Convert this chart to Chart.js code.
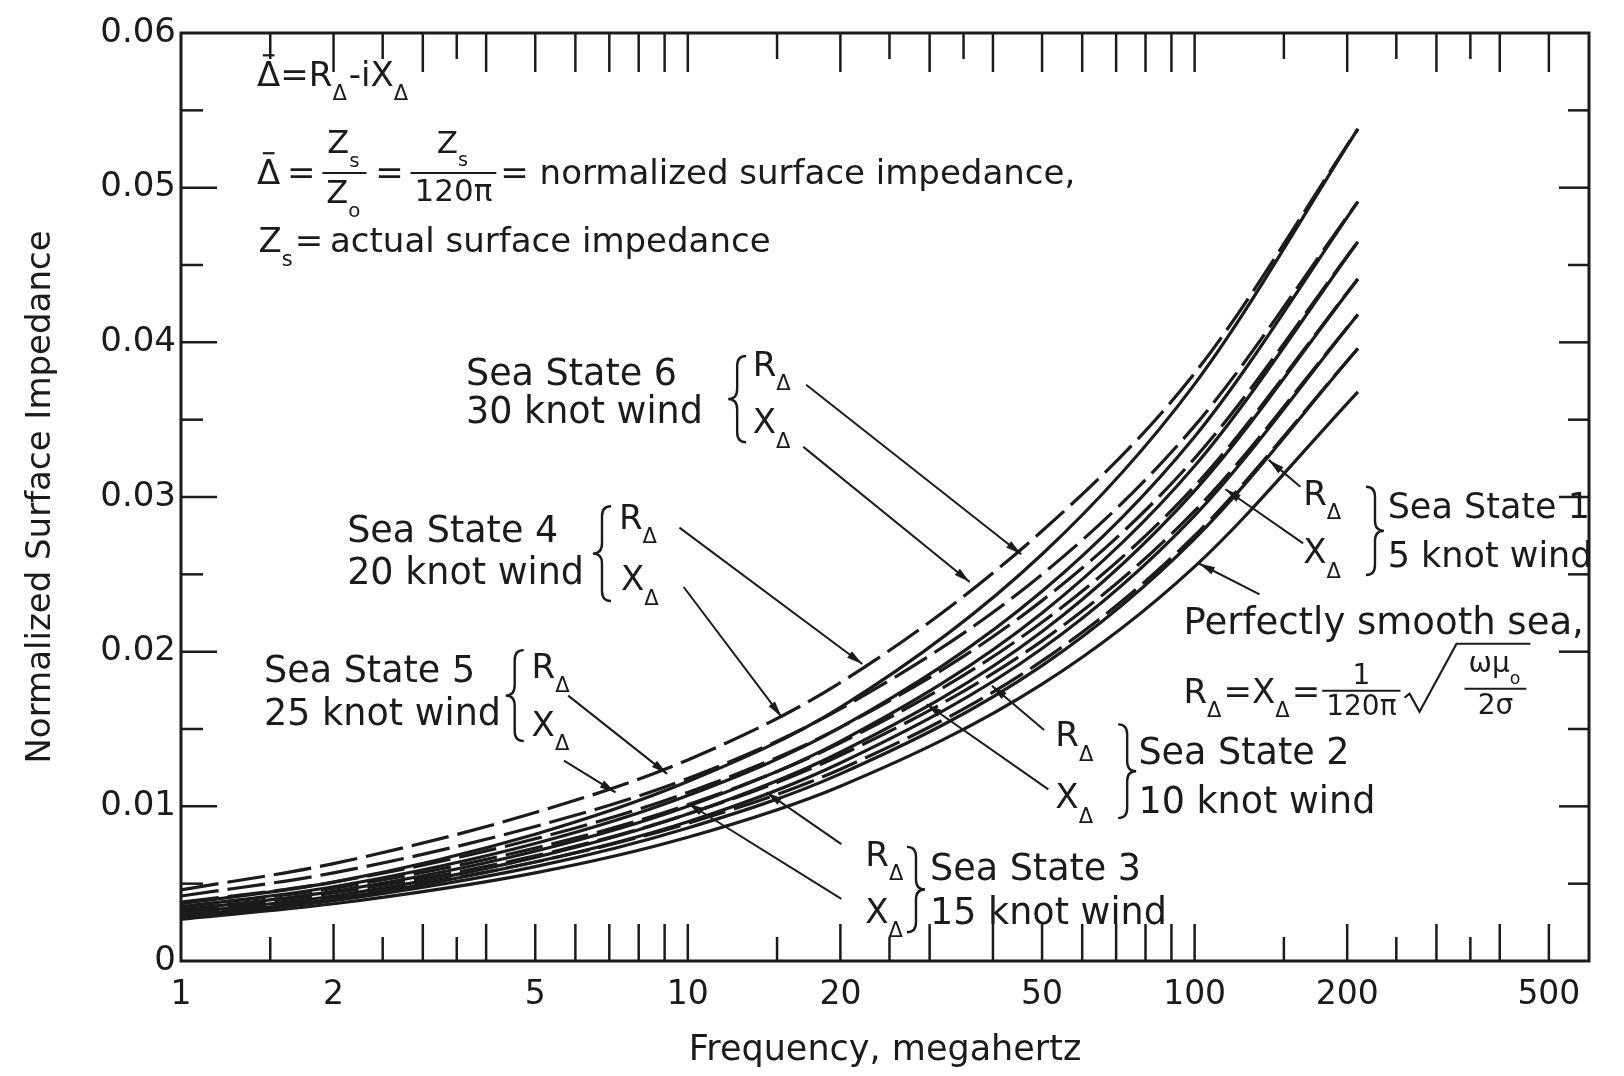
<!DOCTYPE html>
<html>
<head>
<meta charset="utf-8">
<script src="https://cdn.jsdelivr.net/npm/chart.js@4.4.1/dist/chart.umd.min.js"></script>
<style>
  html, body { margin: 0; padding: 0; background: #fff; }
  #wrap { width: 1624px; height: 1076px; }
</style>
</head>
<body>
<div id="wrap"><canvas id="chart" width="1624" height="1076"></canvas></div>
<script>
// 1. DATOS
const freqs = [1, 2, 5, 10, 20, 50, 100, 210];

const smoothSea = [0.0027, 0.0037, 0.0057, 0.0080, 0.0113, 0.0179, 0.0255, 0.0368];
const ss1R = [0.0028, 0.0039, 0.0061, 0.0086, 0.0121, 0.0191, 0.0273, 0.0396];
const ss1X = [0.0030, 0.0041, 0.0064, 0.0089, 0.0124, 0.0194, 0.0275, 0.0396];
const ss2R = [0.0029, 0.0040, 0.0064, 0.0090, 0.0128, 0.0202, 0.0288, 0.0418];
const ss2X = [0.0032, 0.0044, 0.0068, 0.0095, 0.0133, 0.0207, 0.0291, 0.0418];
const ss3R = [0.0031, 0.0042, 0.0067, 0.0095, 0.0135, 0.0213, 0.0304, 0.0441];
const ss3X = [0.0035, 0.0047, 0.0073, 0.0101, 0.0141, 0.0219, 0.0307, 0.0441];
const ss4R = [0.0033, 0.0045, 0.0071, 0.0100, 0.0142, 0.0225, 0.0320, 0.0465];
const ss4X = [0.0038, 0.0051, 0.0079, 0.0109, 0.0151, 0.0233, 0.0325, 0.0465];
const ss5R = [0.0035, 0.0048, 0.0076, 0.0107, 0.0151, 0.0239, 0.0339, 0.0491];
const ss5X = [0.0042, 0.0057, 0.0087, 0.0118, 0.0163, 0.0250, 0.0346, 0.0491];
const ss6R = [0.0037, 0.0051, 0.0082, 0.0116, 0.0164, 0.0263, 0.0373, 0.0538];
const ss6X = [0.0046, 0.0063, 0.0096, 0.0130, 0.0180, 0.0278, 0.0380, 0.0538];

const xTickLabels = [1, 2, 5, 10, 20, 50, 100, 200, 500];
const xTicksLong = [2, 3, 4, 5, 6, 7, 8, 9, 10, 20, 30, 40, 50, 60, 70, 80, 90, 100, 200, 300, 400, 500];
const xTicksShortBottom = [1.5, 2.5, 3.5, 15, 25, 150, 250, 350];
const xTicksShortTop = [1.5, 2.5, 3.5, 15, 25, 35, 150, 250, 350];
const yTickLabels = [0, 0.01, 0.02, 0.03, 0.04, 0.05, 0.06];
const yTicksMinor = [0.005, 0.015, 0.025, 0.035, 0.045, 0.055];

// puntas de flechas [frecuencia MHz, valor]
const tipSS6 = [[45.5, 0.0263], [36, 0.0245]];
const tipSS4 = [[22.1, 0.0192], [15.3, 0.0158]];
const tipSS5 = [[9.1, 0.0121], [7.2, 0.0109]];
const tipSS1 = [[140, 0.0324], [115, 0.0305]];
const tipSS2 = [[39.8, 0.0178], [29.6, 0.0166]];
const tipSS3 = [[14.3, 0.0109], [10.0, 0.0102]];
const tipSmooth = [102, 0.0257];

const seriesList = [
  { name: "Perfectly smooth sea", values: smoothSea, dashed: false },
  { name: "SS1 R", values: ss1R, dashed: false },
  { name: "SS1 X", values: ss1X, dashed: true },
  { name: "SS2 R", values: ss2R, dashed: false },
  { name: "SS2 X", values: ss2X, dashed: true },
  { name: "SS3 R", values: ss3R, dashed: false },
  { name: "SS3 X", values: ss3X, dashed: true },
  { name: "SS4 R", values: ss4R, dashed: false },
  { name: "SS4 X", values: ss4X, dashed: true },
  { name: "SS5 R", values: ss5R, dashed: false },
  { name: "SS5 X", values: ss5X, dashed: true },
  { name: "SS6 R", values: ss6R, dashed: false },
  { name: "SS6 X", values: ss6X, dashed: true },
];

// 2. AUXILIARES DE DIBUJO
const INK = "#1b1b1b";
const FONT = '"DejaVu Sans", sans-serif';

function setFont(ctx, size) { ctx.font = size + "px " + FONT; }

// piezas: [texto, tipo]  tipo: 'n' normal, 's' subíndice, 'b' con barra encima
function rich(ctx, x, y, pieces, size, draw = true) {
  let cx = x;
  for (const [txt, kind] of pieces) {
    const sz = kind === "s" ? size * 0.62 : size;
    setFont(ctx, sz);
    const w = ctx.measureText(txt).width;
    if (draw) {
      ctx.fillText(txt, cx, kind === "s" ? y + size * 0.52 : y);
      if (kind === "b") {
        ctx.lineWidth = 2.2;
        ctx.beginPath();
        ctx.moveTo(cx + w * 0.25, y - size * 0.64);
        ctx.lineTo(cx + w * 0.75, y - size * 0.64);
        ctx.stroke();
      }
    }
    cx += w + (kind === "s" ? 2 : 0);
  }
  return cx;
}

function frac(ctx, x, y, num, den, size, up, down) {
  const wn = rich(ctx, 0, 0, num, size, false);
  const wd = rich(ctx, 0, 0, den, size, false);
  const w = Math.max(wn, wd) + 8;
  rich(ctx, x + (w - wn) / 2, y - up, num, size);
  rich(ctx, x + (w - wd) / 2, y + down, den, size);
  ctx.lineWidth = 2.2;
  ctx.beginPath(); ctx.moveTo(x, y); ctx.lineTo(x + w, y); ctx.stroke();
  return x + w;
}

function brace(ctx, x, y1, y2, dir) {
  const m = (y1 + y2) / 2, w = 9 * dir;
  ctx.lineWidth = 2.4;
  ctx.beginPath();
  ctx.moveTo(x + w, y1);
  ctx.quadraticCurveTo(x, y1, x, y1 + 10);
  ctx.lineTo(x, m - 10);
  ctx.quadraticCurveTo(x, m, x - w, m);
  ctx.quadraticCurveTo(x, m, x, m + 10);
  ctx.lineTo(x, y2 - 10);
  ctx.quadraticCurveTo(x, y2, x + w, y2);
  ctx.stroke();
}

function arrow(ctx, x1, y1, x2, y2) {
  ctx.lineWidth = 2;
  ctx.beginPath(); ctx.moveTo(x1, y1); ctx.lineTo(x2, y2); ctx.stroke();
  const a = Math.atan2(y2 - y1, x2 - x1), L = 16, W = 4;
  const bx = x2 - L * Math.cos(a), by = y2 - L * Math.sin(a);
  ctx.beginPath();
  ctx.moveTo(x2, y2);
  ctx.lineTo(bx + W * Math.sin(a), by - W * Math.cos(a));
  ctx.lineTo(bx - W * Math.sin(a), by + W * Math.cos(a));
  ctx.closePath();
  ctx.fill();
}

const RD = [["R", "n"], ["Δ", "s"]];
const XD = [["X", "n"], ["Δ", "s"]];

// 3. PLUGIN: marco, marcas de ejes y anotaciones
const decorPlugin = {
  id: "decor",
  afterDraw(chart) {
    const { ctx, chartArea: a, scales: { x, y } } = chart;
    const P = (fx, fy) => [a.left + fx * (a.right - a.left), a.top + fy * (a.bottom - a.top)];
    const D = (f, v) => [x.getPixelForValue(f), y.getPixelForValue(v)];

    ctx.save();
    ctx.strokeStyle = INK;
    ctx.fillStyle = INK;
    ctx.lineCap = "butt";

    // marco
    ctx.lineWidth = 3;
    ctx.strokeRect(a.left, a.top, a.right - a.left, a.bottom - a.top);

    // marcas eje x
    ctx.lineWidth = 2.5;
    const vTick = (v, len, top) => {
      const px = x.getPixelForValue(v);
      ctx.beginPath();
      if (top) { ctx.moveTo(px, a.top); ctx.lineTo(px, a.top + len); }
      else { ctx.moveTo(px, a.bottom); ctx.lineTo(px, a.bottom - len); }
      ctx.stroke();
    };
    xTicksLong.forEach(v => { vTick(v, 37, false); vTick(v, 39, true); });
    xTicksShortBottom.forEach(v => vTick(v, 24, false));
    xTicksShortTop.forEach(v => vTick(v, 26, true));

    // marcas eje y
    const hTick = (v, len, right) => {
      const py = y.getPixelForValue(v);
      ctx.beginPath();
      if (right) { ctx.moveTo(a.right, py); ctx.lineTo(a.right - len, py); }
      else { ctx.moveTo(a.left, py); ctx.lineTo(a.left + len, py); }
      ctx.stroke();
    };
    yTickLabels.slice(1, -1).forEach(v => { hTick(v, 36, false); hTick(v, 30, true); });
    yTicksMinor.forEach(v => { hTick(v, 22, false); hTick(v, 21, true); });

    // textos
    ctx.textAlign = "left";
    ctx.textBaseline = "middle";
    const S = 34;

    // bloque de fórmulas arriba a la izquierda
    let [tx, ty] = P(0.054, 0.0475);
    rich(ctx, tx, ty, [["Δ", "b"], ["=", "n"], ...RD, ["-", "n"], ["i", "n"], ...XD], S);

    [tx, ty] = P(0.054, 0.153);
    let cx = rich(ctx, tx, ty, [["Δ", "b"], ["\u2009=\u2009", "n"]], S);
    cx = frac(ctx, cx, ty - 2, [["Z", "n"], ["s", "s"]], [["Z", "n"], ["o", "s"]], 32, 28, 22);
    cx = rich(ctx, cx + 2, ty, [["\u2009=\u2009", "n"]], S);
    cx = frac(ctx, cx, ty - 2, [["Z", "n"], ["s", "s"]], [["120π", "n"]], 31, 28, 20);
    rich(ctx, cx + 4, ty, [["= normalized surface impedance,", "n"]], S);

    [tx, ty] = P(0.055, 0.226);
    rich(ctx, tx, ty, [["Z", "n"], ["s", "s"], ["=\u2009actual surface impedance", "n"]], S);

    const block = (txt1, txt2, tPos, bPos, bDir, rPos, xPos, tails, tips, size) => {
      let [px, py] = P(tPos[0], tPos[1]);
      rich(ctx, px, py, [[txt1, "n"]], size);
      [px, py] = P(tPos[0], tPos[2]);
      rich(ctx, px, py, [[txt2, "n"]], size);
      const [bx, by1] = P(bPos[0], bPos[1]);
      const [, by2] = P(bPos[0], bPos[2]);
      brace(ctx, bx, by1, by2, bDir);
      [px, py] = P(rPos[0], rPos[1]);
      rich(ctx, px, py, RD, S);
      [px, py] = P(xPos[0], xPos[1]);
      rich(ctx, px, py, XD, S);
      tails.forEach((t, i) => {
        const [x1, y1] = P(t[0], t[1]);
        const [x2, y2] = D(tips[i][0], tips[i][1]);
        arrow(ctx, x1, y1, x2, y2);
      });
    };

    block("Sea State 6", "30 knot wind", [0.2024, 0.369, 0.410], [0.395, 0.348, 0.441], 1,
      [0.406, 0.360], [0.406, 0.422], [[0.444, 0.379], [0.442, 0.446]], tipSS6, 36.5);
    block("Sea State 4", "20 knot wind", [0.118, 0.538, 0.584], [0.299, 0.510, 0.612], 1,
      [0.311, 0.525], [0.3125, 0.591], [[0.354, 0.533], [0.357, 0.597]], tipSS4, 36.5);
    block("Sea State 5", "25 knot wind", [0.059, 0.689, 0.735], [0.237, 0.665, 0.763], 1,
      [0.249, 0.685], [0.249, 0.748], [[0.275, 0.714], [0.272, 0.784]], tipSS5, 36.5);
    block("Sea State 1", "5 knot wind", [0.857, 0.513, 0.566], [0.848, 0.489, 0.584], -1,
      [0.797, 0.499], [0.797, 0.562], [[0.795, 0.489], [0.797, 0.550]], tipSS1, 35);
    block("Sea State 2", "10 knot wind", [0.680, 0.777, 0.830], [0.672, 0.745, 0.846], -1,
      [0.621, 0.759], [0.621, 0.826], [[0.613, 0.751], [0.616, 0.815]], tipSS2, 36.5);
    block("Sea State 3", "15 knot wind", [0.532, 0.902, 0.950], [0.522, 0.877, 0.969], -1,
      [0.486, 0.888], [0.486, 0.949], [[0.469, 0.874], [0.469, 0.933]], tipSS3, 36.5);

    // mar perfectamente liso
    [tx, ty] = P(0.712, 0.637);
    rich(ctx, tx, ty, [["Perfectly smooth sea,", "n"]], 37);
    const [sx1, sy1] = P(0.766, 0.605);
    const [sx2, sy2] = D(tipSmooth[0], tipSmooth[1]);
    arrow(ctx, sx1, sy1, sx2, sy2);

    [tx, ty] = P(0.712, 0.712);
    cx = rich(ctx, tx, ty, [...RD, ["=", "n"], ...XD, ["=", "n"]], S);
    cx = frac(ctx, cx + 2, ty - 3, [["1", "n"]], [["120π", "n"]], 28, 14, 17);
    // raíz
    const rx = cx + 4;
    const fw = rich(ctx, 0, 0, [["ωμ", "n"], ["o", "s"]], 28, false) + 8;
    ctx.lineWidth = 2.2;
    ctx.beginPath();
    ctx.moveTo(rx, ty + 4);
    ctx.lineTo(rx + 5, ty);
    ctx.lineTo(rx + 15, ty + 18);
    ctx.lineTo(rx + 52, ty - 50);
    ctx.lineTo(rx + 60 + fw + 4, ty - 50);
    ctx.stroke();
    frac(ctx, rx + 60, ty - 5, [["ωμ", "n"], ["o", "s"]], [["2σ", "n"]], 28, 24, 18);

    ctx.restore();
  }
};

// 4. GRÁFICA
new Chart(document.getElementById("chart"), {
  type: "line",
  data: {
    datasets: seriesList.map(s => ({
      label: s.name,
      data: freqs.map((f, i) => ({ x: f, y: s.values[i] })),
      borderColor: INK,
      borderWidth: 3.2,
      borderDash: s.dashed ? [38, 9] : [],
      pointRadius: 0,
      fill: false,
      cubicInterpolationMode: "monotone",
    })),
  },
  options: {
    responsive: false,
    devicePixelRatio: 1,
    animation: false,
    layout: { padding: { top: 33, right: 35, left: 0, bottom: 0 } },
    plugins: { legend: { display: false }, tooltip: { enabled: false } },
    scales: {
      x: {
        type: "logarithmic",
        min: 1,
        max: 600,
        grid: { display: false, drawTicks: false },
        border: { display: false },
        afterBuildTicks: s => { s.ticks = xTickLabels.map(v => ({ value: v })); },
        afterFit: s => { s.height = 115; },
        ticks: {
          autoSkip: false, maxRotation: 0, padding: 15, color: INK,
          font: { family: FONT, size: 33 },
          callback: v => String(v),
        },
        title: {
          display: true, text: "Frequency, megahertz", color: INK,
          font: { family: FONT, size: 35 }, padding: { top: 0, bottom: 4 },
        },
      },
      y: {
        min: 0,
        max: 0.06,
        grid: { display: false, drawTicks: false },
        border: { display: false },
        afterBuildTicks: s => { s.ticks = yTickLabels.map(v => ({ value: v })); },
        afterFit: s => { s.width = 181; },
        ticks: {
          padding: 5, color: INK,
          font: { family: FONT, size: 34 },
          callback: v => (v === 0 ? "0" : v.toFixed(2)),
        },
        title: {
          display: true, text: "Normalized Surface Impedance", color: INK,
          font: { family: FONT, size: 34 }, padding: { top: 21, bottom: 0 },
        },
      },
    },
  },
  plugins: [decorPlugin],
});
</script>
</body>
</html>
